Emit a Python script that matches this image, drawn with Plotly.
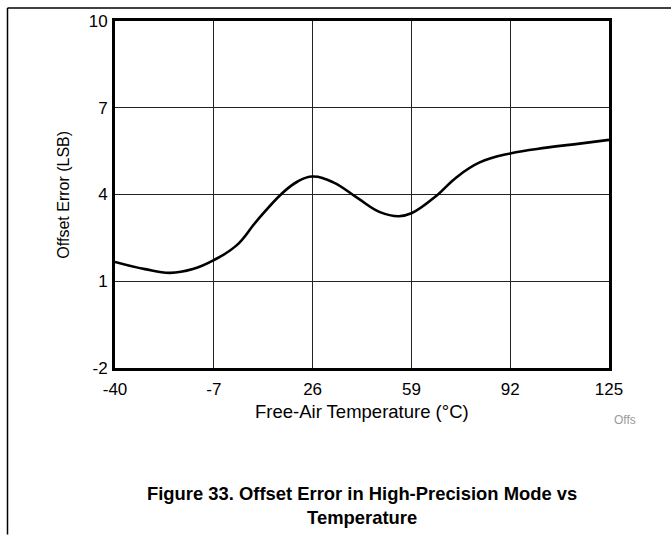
import plotly.graph_objects as go

# Data
temperature_c = [-40, -30, -21.6, -14, -7, 0.6, 7.3, 15.6, 21, 25.9, 32.9, 40.7, 48.5, 54.8,
                 59, 67.4, 74, 81.8, 92, 104.1, 115.2, 125]
offset_lsb = [1.67, 1.42, 1.29, 1.42, 1.73, 2.24, 3.08, 4.02, 4.45, 4.62, 4.42, 3.90, 3.39, 3.25,
              3.35, 3.96, 4.59, 5.11, 5.42, 5.62, 5.76, 5.89]

x_ticks = [-40, -7, 26, 59, 92, 125]
y_ticks = [-2, 1, 4, 7, 10]

x_title = "Free-Air Temperature (°C)"
y_title = "Offset Error (LSB)"
caption_lines = ["Figure 33. Offset Error in High-Precision Mode vs", "Temperature"]
tag = "Offs"

FONT = "Liberation Sans, Arial, Helvetica, sans-serif"

fig = go.Figure()
fig.add_trace(go.Scatter(
    x=temperature_c, y=offset_lsb, mode="lines",
    line=dict(color="black", width=2.6, shape="spline", smoothing=1.2),
    showlegend=False, hoverinfo="skip",
))

fig.update_layout(
    width=671, height=535,
    margin=dict(l=115, r=62, t=19, b=167),
    paper_bgcolor="white", plot_bgcolor="white",
    font=dict(family=FONT, color="black", size=17),
    xaxis=dict(
        range=[-40, 125], tickvals=x_ticks, ticktext=[str(v) for v in x_ticks],
        showgrid=True, gridcolor="#222222", gridwidth=1,
        showline=True, linecolor="black", linewidth=3, mirror=True,
        ticks="", zeroline=False, ticklabelstandoff=4,
        tickfont=dict(size=17),
    ),
    yaxis=dict(
        range=[-2, 10], tickvals=y_ticks, ticktext=[str(v) for v in y_ticks],
        showgrid=True, gridcolor="#222222", gridwidth=1,
        showline=True, linecolor="black", linewidth=3, mirror=True,
        ticks="", zeroline=False, ticklabelstandoff=1,
        tickfont=dict(size=17),
    ),
    annotations=[
        dict(text=x_title, xref="paper", yref="paper", x=0.5, y=-0.126,
             showarrow=False, xanchor="center", yanchor="middle",
             font=dict(size=18.5, family=FONT)),
        dict(text=y_title, xref="paper", yref="paper", x=-0.105, y=0.5,
             showarrow=False, xanchor="center", yanchor="middle", textangle=-90,
             font=dict(size=16, family=FONT)),
        dict(text=tag, xref="paper", yref="paper", x=1.032, y=-0.149,
             showarrow=False, xanchor="center", yanchor="middle",
             font=dict(size=12, family=FONT, color="#9a9a9a")),
        dict(text="<br>".join("<b>" + s + "</b>" for s in caption_lines),
             xref="paper", yref="paper", x=0.5, y=-0.397,
             showarrow=False, xanchor="center", yanchor="middle",
             font=dict(size=18.4, family=FONT), align="center"),
    ],
    shapes=[
        dict(type="line", xref="paper", yref="paper", layer="above",
             x0=-0.2176, x1=1.126, y0=1.0372, y1=1.0372,
             line=dict(color="black", width=1.5)),
        dict(type="line", xref="paper", yref="paper", layer="above",
             x0=-0.2176, x1=-0.2176, y0=1.0372, y1=-0.48,
             line=dict(color="black", width=1.5)),
    ],
)

fig.write_html("out.html",
               config={"displayModeBar": False, "staticPlot": True},
               post_script="document.body.style.margin='0';document.body.style.padding='0';")
